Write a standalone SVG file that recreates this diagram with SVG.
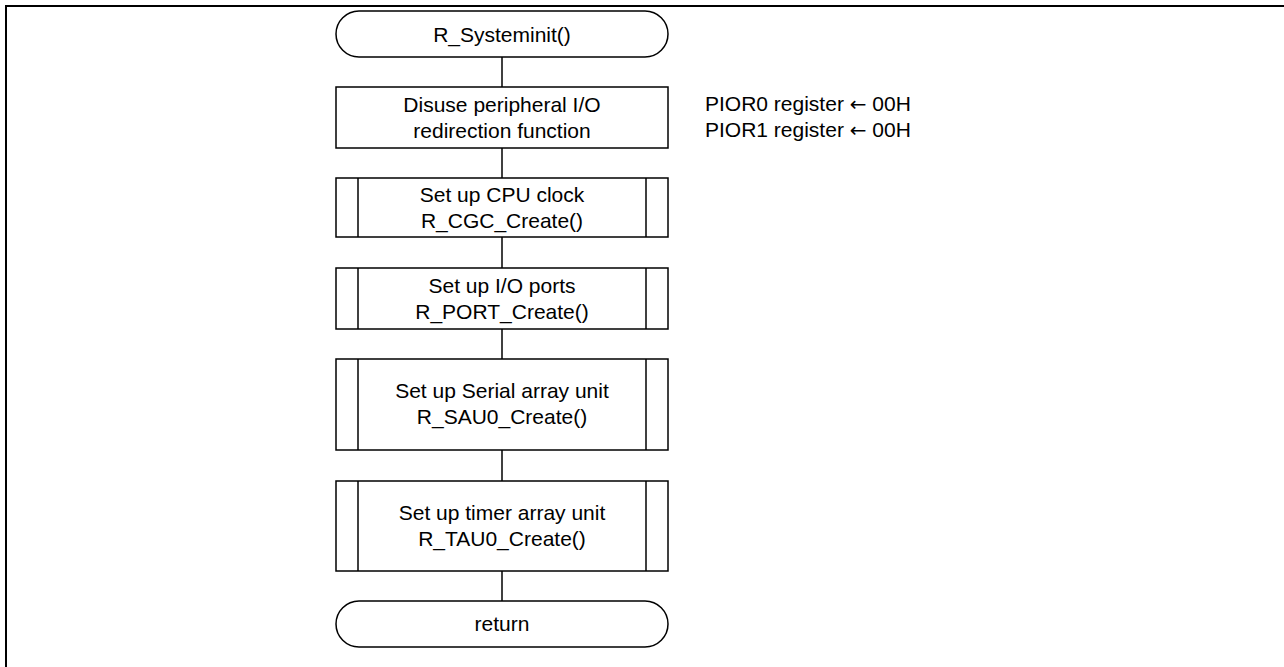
<svg xmlns="http://www.w3.org/2000/svg" width="1284" height="667" viewBox="0 0 1284 667">
<style>
.s{fill:#fff;stroke:#000;stroke-width:1.5}
.l{fill:none;stroke:#000;stroke-width:1.5}
text{font-family:"Liberation Sans",Arial,sans-serif;font-size:21px;fill:#000}
.c{text-anchor:middle}
.a{font-family:"DejaVu Sans",sans-serif;font-size:20px}
</style>
<rect x="0" y="0" width="1284" height="667" fill="#fff"/>
<path d="M6 667 V6 H1284" fill="none" stroke="#000" stroke-width="2"/>
<g id="connectors">
<line class="l" x1="502" y1="57" x2="502" y2="87"/>
<line class="l" x1="502" y1="148" x2="502" y2="178"/>
<line class="l" x1="502" y1="237" x2="502" y2="268"/>
<line class="l" x1="502" y1="329" x2="502" y2="359"/>
<line class="l" x1="502" y1="450" x2="502" y2="481"/>
<line class="l" x1="502" y1="571" x2="502" y2="601"/>
</g>
<g id="start">
<rect class="s" x="336" y="11" width="332" height="46" rx="23"/>
<text class="c" x="502" y="42">R_Systeminit()</text>
</g>
<g id="disuse">
<rect class="s" x="336" y="87" width="332" height="61"/>
<text class="c" x="502" y="112">Disuse peripheral I/O</text>
<text class="c" x="502" y="138">redirection function</text>
</g>
<g id="note">
<text x="705" y="111">PIOR0 register <tspan class="a">←</tspan> 00H</text>
<text x="705" y="137">PIOR1 register <tspan class="a">←</tspan> 00H</text>
</g>
<g id="cgc">
<rect class="s" x="336" y="178" width="332" height="59"/>
<line class="l" x1="358" y1="178" x2="358" y2="237"/>
<line class="l" x1="646" y1="178" x2="646" y2="237"/>
<text class="c" x="502" y="202">Set up CPU clock</text>
<text class="c" x="502" y="228">R_CGC_Create()</text>
</g>
<g id="port">
<rect class="s" x="336" y="268" width="332" height="61"/>
<line class="l" x1="358" y1="268" x2="358" y2="329"/>
<line class="l" x1="646" y1="268" x2="646" y2="329"/>
<text class="c" x="502" y="293">Set up I/O ports</text>
<text class="c" x="502" y="319">R_PORT_Create()</text>
</g>
<g id="sau">
<rect class="s" x="336" y="359" width="332" height="91"/>
<line class="l" x1="358" y1="359" x2="358" y2="450"/>
<line class="l" x1="646" y1="359" x2="646" y2="450"/>
<text class="c" x="502" y="398">Set up Serial array unit</text>
<text class="c" x="502" y="424">R_SAU0_Create()</text>
</g>
<g id="tau">
<rect class="s" x="336" y="481" width="332" height="90"/>
<line class="l" x1="358" y1="481" x2="358" y2="571"/>
<line class="l" x1="646" y1="481" x2="646" y2="571"/>
<text class="c" x="502" y="520">Set up timer array unit</text>
<text class="c" x="502" y="546">R_TAU0_Create()</text>
</g>
<g id="return">
<rect class="s" x="336" y="601" width="332" height="46" rx="23"/>
<text class="c" x="502" y="631">return</text>
</g>
</svg>
